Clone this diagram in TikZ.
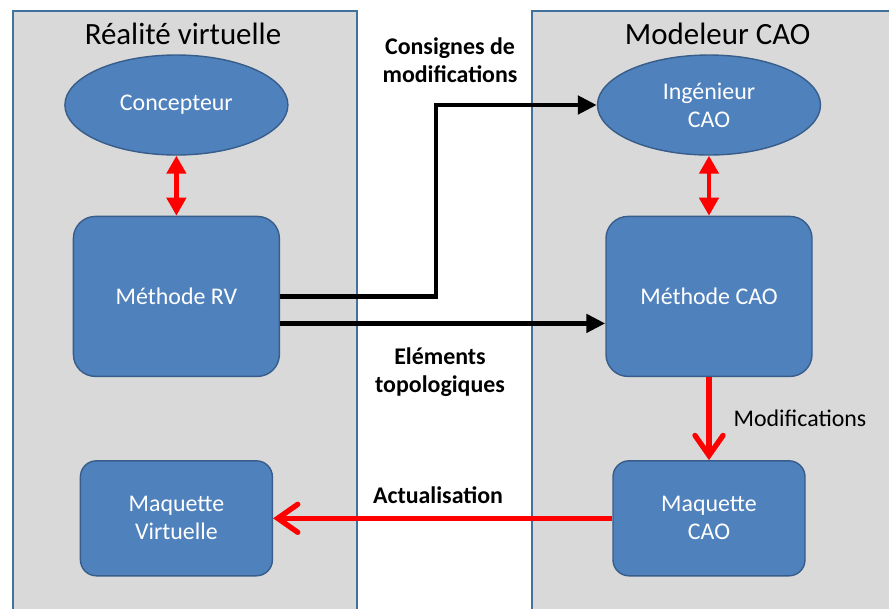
\documentclass[tikz,border=0pt]{standalone}
\usepackage{fontspec}
\setmainfont{Carlito}
\usepackage{tikz}
\usetikzlibrary{positioning,shapes.geometric,arrows.meta}
\definecolor{DEFINE_BOX_COLOR}{HTML}{4F81BD}
\definecolor{DEFINE_BOX_BORDER}{HTML}{385D8A}
\definecolor{DEFINE_PANEL_COLOR}{HTML}{D9D9D9}
\definecolor{DEFINE_PANEL_BORDER}{HTML}{41719C}
\definecolor{DEFINE_SYNC_COLOR}{HTML}{FF0000}
\tikzstyle{BOX_COLOR}=[fill=DEFINE_BOX_COLOR, draw=DEFINE_BOX_BORDER]
\tikzstyle{PANEL_COLOR}=[fill=DEFINE_PANEL_COLOR, draw=DEFINE_PANEL_BORDER]
\tikzstyle{panel} = [rectangle, PANEL_COLOR, line width=1.5pt, minimum height=16cm, anchor=north west]
\tikzstyle{title} = [font=\fontsize{22}{26}\selectfont, anchor=base]
\tikzstyle{block} = [BOX_COLOR, line width=1pt, text=white, align=center, font=\fontsize{17}{20}\selectfont]
\tikzstyle{actor} = [block, ellipse, minimum width=5.575cm, minimum height=2.5cm]
\tikzstyle{method} = [block, rectangle, rounded corners=0.55cm, minimum width=5.15cm, minimum height=4cm]
\tikzstyle{mockup} = [block, rectangle, rounded corners=0.4cm, minimum width=4.8cm, minimum height=2.875cm]
\tikzstyle{note} = [align=center, font=\fontsize{17}{20}\selectfont\bfseries]
\tikzstyle{plain} = [align=center, font=\fontsize{17}{20}\selectfont]
\tikzstyle{link} = [line width=3.5pt, -{Triangle[length=0.475cm,width=0.45cm]}]
\tikzstyle{sync} = [line width=3.5pt, DEFINE_SYNC_COLOR, {Triangle[length=0.45cm,width=0.475cm]}-{Triangle[length=0.45cm,width=0.475cm]}]
\tikzstyle{update} = [line width=3.8pt, DEFINE_SYNC_COLOR, -{Straight Barb[length=0.5cm,width=0.7cm,line cap=round]}]

\begin{document}
\begin{tikzpicture}[node distance = 1.5cm and 0cm]
      \clip (0,0) rectangle (22.225,-15.2);

      %%%%%%%%%%%%%%%%%%%%%%%%%%%%%%%%%%%%%%%%%%%%%%%%%
      % PANELS
      %%%%%%%%%%%%%%%%%%%%%%%%%%%%%%%%%%%%%%%%%%%%%%%%%
      \node[panel, minimum width=8.6cm]  (RV)  at (0.3,-0.25)    {};
      \node[panel, minimum width=10cm]   (CAO) at (13.275,-0.25) {};
      \node[title] (RVT)  at (4.575,-1.1) {Réalité virtuelle};
      \node[title] (CAOT) at (17.94,-1.1) {Modeleur CAO};

      %%%%%%%%%%%%%%%%%%%%%%%%%%%%%%%%%%%%%%%%%%%%%%%%%
      % REALITE VIRTUELLE
      %%%%%%%%%%%%%%%%%%%%%%%%%%%%%%%%%%%%%%%%%%%%%%%%%
      \node[actor] (CON) at (4.41,-2.625) {Concepteur};
      \node[method, below= of CON] (MRV) {Méthode RV};
      \node[mockup, below= 2.075cm of MRV] (MAQV) {Maquette\\Virtuelle};

      %%%%%%%%%%%%%%%%%%%%%%%%%%%%%%%%%%%%%%%%%%%%%%%%%
      % MODELEUR CAO
      %%%%%%%%%%%%%%%%%%%%%%%%%%%%%%%%%%%%%%%%%%%%%%%%%
      \node[actor] (ING) at (17.725,-2.625) {Ingénieur\\CAO};
      \node[method, below= of ING] (MCAO) {Méthode CAO};
      \node[mockup, below= 2.075cm of MCAO] (MAQC) {Maquette\\CAO};

      %%%%%%%%%%%%%%%%%%%%%%%%%%%%%%%%%%%%%%%%%%%%%%%%%
      % LABELS AND ARROWS
      %%%%%%%%%%%%%%%%%%%%%%%%%%%%%%%%%%%%%%%%%%%%%%%%%
      \path[sync]
      (CON.south) edge (MRV.north)
      (ING.south) edge (MCAO.north);

      \coordinate (K) at (10.9,0);
      \node[note] (CM) at (11.25,-1.5) {Consignes de\\modifications};
      \draw[link] (MRV.east) -| (K |- ING.west) -- (ING.west);

      \node[note] (ET) at (11.0,-9.3) {Eléments\\topologiques};
      \draw[link] ([yshift=-0.675cm]MRV.east) -- ([yshift=-0.675cm]MCAO.west);

      \node[plain] (MOD) at (20.0,-10.45) {Modifications};
      \draw[update] (MCAO.south) -- (MAQC.north);

      \node[note] (ACT) at (10.95,-12.375) {Actualisation};
      \draw[update] (MAQC.west) -- (MAQV.east);

\end{tikzpicture}
\end{document}
